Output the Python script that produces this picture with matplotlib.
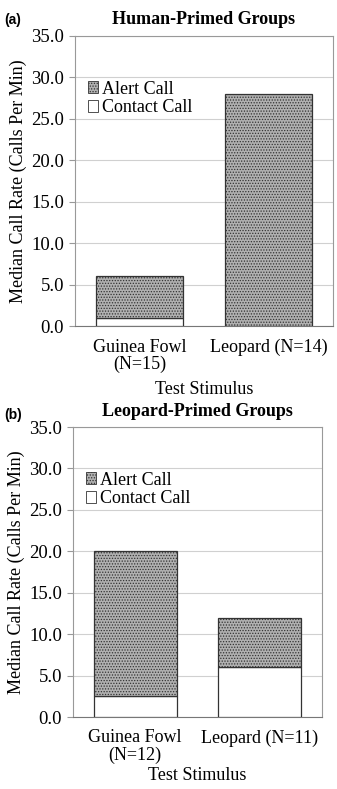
import matplotlib
matplotlib.use("Agg")
import matplotlib.pyplot as plt
from matplotlib.patches import Patch

plt.rcParams["font.family"] = ["Liberation Serif", "DejaVu Serif"]
plt.rcParams["hatch.linewidth"] = 0.6

# values (median calls per min)
human_labels = ["Guinea Fowl\n(N=15)", "Leopard (N=14)"]
human_contact = [1.0, 0.0]
human_alert = [5.0, 28.0]

leopard_labels = ["Guinea Fowl\n(N=12)", "Leopard (N=11)"]
leopard_contact = [2.5, 6.0]
leopard_alert = [17.5, 6.0]

yticks = [0, 5, 10, 15, 20, 25, 30, 35]

W, H = 337, 789
FS = 13
fig = plt.figure(figsize=(W / 100, H / 100), dpi=100)


def px(l, t, r, b):
    return [l / W, 1 - b / H, (r - l) / W, (b - t) / H]


def panel(rect, labels, contact, alert, title, tag, title_y, tag_y, xlab_pad):
    ax = fig.add_axes(rect)
    x = list(range(len(labels)))
    ax.bar(x, contact, width=0.67, color="white", edgecolor="#333333", linewidth=0.9, zorder=3)
    ax.bar(x, alert, bottom=contact, width=0.67, color="#b0b0b0", edgecolor="#333333",
           hatch="......", linewidth=0.9, zorder=3)
    ax.set_xlim(-0.5, 1.5)
    ax.set_ylim(0, 35)
    ax.set_yticks(yticks)
    ax.set_yticklabels([f"{v:.1f}" for v in yticks], fontsize=13.5)
    ax.set_xticks(x)
    ax.set_xticklabels(labels, fontsize=FS, linespacing=1.0)
    ax.tick_params(axis="x", length=0, pad=9)
    ax.tick_params(axis="y", length=4, color="#999999", pad=4)
    ax.grid(axis="y", color="#d0d0d0", linewidth=0.8, zorder=0)
    for s in ["top", "right", "left"]:
        ax.spines[s].set_color("#999999")
        ax.spines[s].set_linewidth(0.8)
    ax.spines["bottom"].set_color("#777777")
    ax.set_xlabel("Test Stimulus", fontsize=FS, labelpad=xlab_pad)
    ax.set_ylabel("Median Call Rate (Calls Per Min)", fontsize=FS, labelpad=3)
    handles = [Patch(facecolor="#b0b0b0", edgecolor="#333333", hatch="......", linewidth=0.6),
               Patch(facecolor="white", edgecolor="#333333", linewidth=0.6)]
    ax.legend(handles, ["Alert Call", "Contact Call"], loc="upper left",
              bbox_to_anchor=(0.0, 0.89), frameon=False, fontsize=FS,
              handlelength=0.6, handleheight=0.6, handletextpad=0.2,
              labelspacing=0.1, borderaxespad=0.3)
    fig.text((rect[0] + rect[0] + rect[2]) / 2, 1 - title_y / H, title,
             ha="center", va="center", fontsize=FS, fontweight="bold")
    fig.text(4 / W, 1 - tag_y / H, tag, ha="left", va="center", fontsize=10,
             fontweight="bold", family=["Liberation Sans", "DejaVu Sans"])
    return ax


panel(px(75, 36, 333, 326), human_labels, human_contact, human_alert,
      "Human-Primed Groups", "(a)", 20, 20, 6)
panel(px(73, 427, 322, 717), leopard_labels, leopard_contact, leopard_alert,
      "Leopard-Primed Groups", "(b)", 412, 415, 2)

fig.savefig("out.png", dpi=100)
